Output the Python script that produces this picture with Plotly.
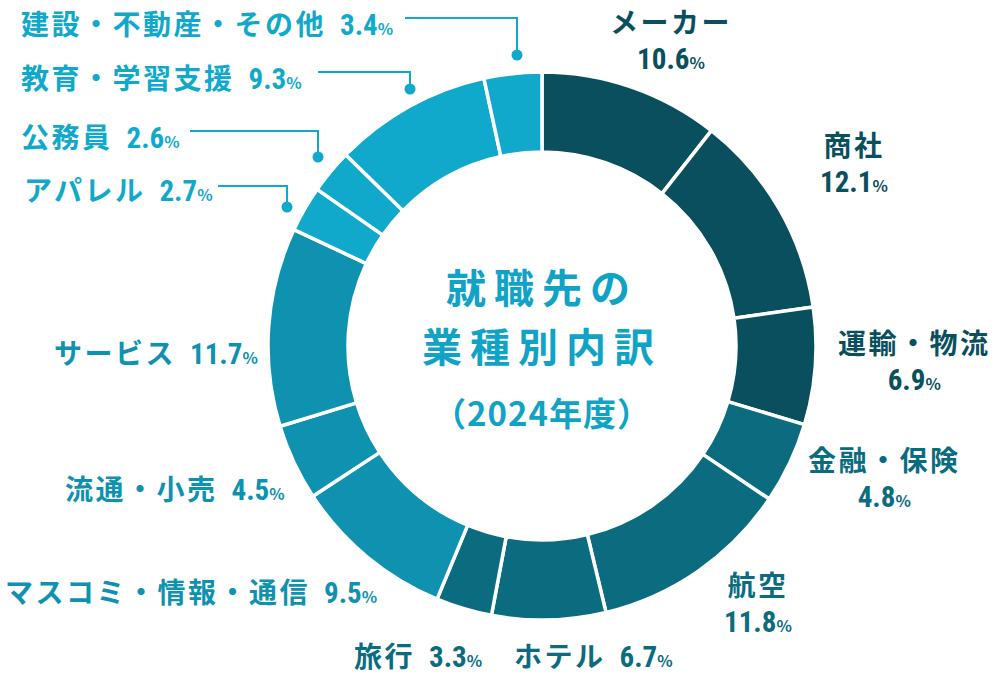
import plotly.graph_objects as go

# ---------------- data ----------------
categories = ["メーカー", "商社", "運輸・物流", "金融・保険", "航空", "ホテル", "旅行",
              "マスコミ・情報・通信", "流通・小売", "サービス", "アパレル", "公務員",
              "教育・学習支援", "建設・不動産・その他"]
values = [10.6, 12.1, 6.9, 4.8, 11.8, 6.7, 3.3, 9.5, 4.5, 11.7, 2.7, 2.6, 9.3, 3.4]
groups = [0, 0, 0, 1, 1, 1, 1, 2, 2, 2, 3, 3, 3, 3]

# ---------------- style ----------------
palette = ["#0a4f5d", "#0b6c80", "#0e92b0", "#10a9cb"]
W, H = 1002, 674
CX, CY, R = 542, 346, 274
FONT = "'Noto Sans CJK JP', sans-serif"
NUMFONT = "'Roboto Condensed', 'Liberation Sans Narrow', 'DejaVu Sans Condensed', 'Noto Sans CJK JP'"

def px(x, y):
    return x / W, 1 - y / H

colors = [palette[g] for g in groups]

fig = go.Figure(go.Pie(
    labels=categories, values=values, sort=False, direction="clockwise",
    rotation=0, hole=0.708, textinfo="none", hoverinfo="label+percent",
    marker=dict(colors=colors, line=dict(color="white", width=3.5)),
    domain=dict(x=[(CX - R) / W, (CX + R) / W], y=[1 - (CY + R) / H, 1 - (CY - R) / H]),
    showlegend=False,
))

def name(c):
    return f"<span style='letter-spacing:2.5px'>{c}</span>"

def pct(v):
    return (f"<span style=\"font-size:29px;font-family:{NUMFONT}\">{v}</span>"
            f"<span style='font-size:16px'>%</span>")

# label placement: (x, y, xanchor, two-line?)
place = {
    "メーカー": (671, 39, "center", True),
    "商社": (854, 162, "center", True),
    "運輸・物流": (914, 359, "center", True),
    "金融・保険": (884, 476, "center", True),
    "航空": (758, 601, "center", True),
    "ホテル": (512, 655, "left", False),
    "旅行": (352, 655, "left", False),
    "マスコミ・情報・通信": (3, 591, "left", False),
    "流通・小売": (63, 488, "left", False),
    "サービス": (52, 352, "left", False),
    "アパレル": (22, 189, "left", False),
    "公務員": (19, 136, "left", False),
    "教育・学習支援": (19, 77, "left", False),
    "建設・不動産・その他": (19, 23, "left", False),
}

annotations = []
for cat, v, g in zip(categories, values, groups):
    x, y, anc, two = place[cat]
    txt = f"{name(cat)}<br>{pct(v)}" if two else f"{name(cat)}\u2002{pct(v)}"
    ax, ay = px(x, y)
    annotations.append(dict(
        x=ax, y=ay, xref="paper", yref="paper", xanchor=anc, yanchor="middle",
        text=txt, showarrow=False, align="center",
        font=dict(family=FONT, size=28, color=palette[g], weight=700),
    ))

# center title
title_color = "#10a3c6"
for t, y, s in [("<span style='letter-spacing:8px'>就職先の</span>", 286, 40),
                ("<span style='letter-spacing:8px'>業種別内訳</span>", 345, 40),
                ("<span style='letter-spacing:1px'>（2024年度）</span>", 412, 33)]:
    ax, ay = px(CX, y)
    annotations.append(dict(x=ax, y=ay, xref="paper", yref="paper", xanchor="center",
                            yanchor="middle", text=t, showarrow=False,
                            font=dict(family=FONT, size=s, color=title_color, weight=700)))

# leader lines for small slices
leaders = [
    # (x_start, y_line, x_corner, y_dot)
    (405, 18, 517, 55),
    (318, 72, 410, 89),
    (190, 131, 318, 157),
    (218, 186, 287, 207),
]
shapes = []
lc = palette[3]
for x0, yl, x1, yd in leaders:
    p0 = px(x0, yl); p1 = px(x1, yl); p2 = px(x1, yd)
    shapes.append(dict(type="path", xref="paper", yref="paper",
                       path=f"M {p0[0]} {p0[1]} L {p1[0]} {p1[1]} L {p2[0]} {p2[1]}",
                       line=dict(color=lc, width=2)))
    r = 5.5
    a = px(x1 - r, yd - r); b = px(x1 + r, yd + r)
    shapes.append(dict(type="circle", xref="paper", yref="paper",
                       x0=a[0], y0=b[1], x1=b[0], y1=a[1],
                       fillcolor=lc, line=dict(color=lc, width=0)))

fig.update_layout(
    width=W, height=H, margin=dict(l=0, r=0, t=0, b=0),
    paper_bgcolor="white", plot_bgcolor="white",
    annotations=annotations, shapes=shapes,
)

fig.write_html("out.html", config={"displayModeBar": False},
               post_script="document.body.style.margin='0';document.body.style.overflow='hidden';")
